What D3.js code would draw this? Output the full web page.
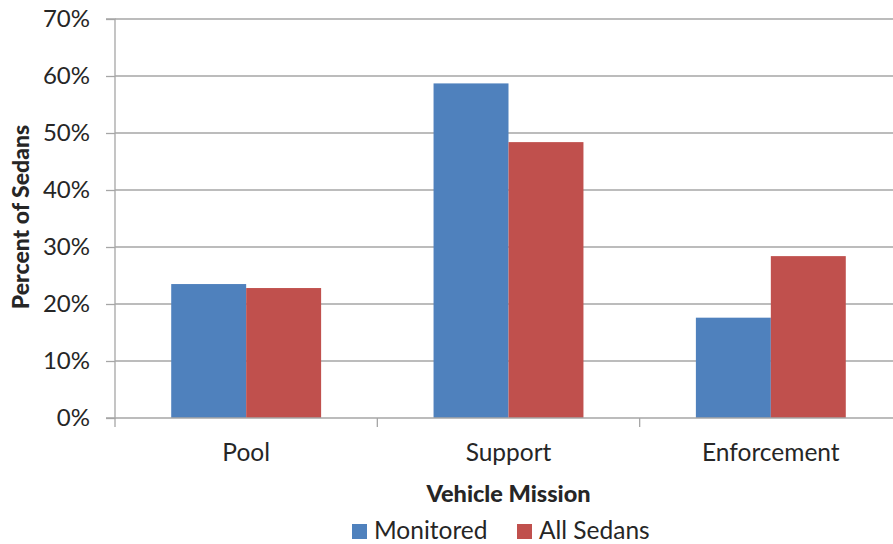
<!DOCTYPE html>
<html>
<head>
<meta charset="utf-8">
<script src="https://cdn.jsdelivr.net/npm/d3@7/dist/d3.min.js"></script>
<style>
  html, body { margin: 0; padding: 0; background: #fff; }
  svg { display: block; }
  text { font-family: Lato, "Open Sans", sans-serif; fill: #262626; }
</style>
</head>
<body>
<svg id="chart" width="893" height="544"></svg>
<script>
// Share of sedans by vehicle mission
const categories = ["Pool", "Support", "Enforcement"];
const seriesNames = ["Monitored", "All Sedans"];
const monitored = [23.5, 58.7, 17.6];
const allSedans = [22.8, 48.4, 28.4];
const yTicks = [0, 10, 20, 30, 40, 50, 60, 70];
const colors = ["#4F81BD", "#C0504D"];

const seriesValues = [monitored, allSedans];

const svg = d3.select("#chart");
const W = 893, H = 544;
const plot = { left: 115, right: 902, top: 19, bottom: 418 };

const x0 = d3.scaleBand().domain(categories).range([plot.left, plot.right]).padding(0);
const x1 = d3.scaleBand().domain(seriesNames).range([0, x0.bandwidth()])
  .paddingInner(0).paddingOuter(0.75);
const y = d3.scaleLinear().domain([0, 70]).range([plot.bottom, plot.top]);

// Horizontal gridlines
svg.append("g")
  .selectAll("line")
  .data(yTicks.filter(d => d > 0))
  .join("line")
  .attr("x1", plot.left).attr("x2", W)
  .attr("y1", d => y(d)).attr("y2", d => y(d))
  .attr("stroke", "#a6a6a6").attr("stroke-width", 1.3);

// Bars
const groups = svg.append("g")
  .selectAll("g")
  .data(categories)
  .join("g")
  .attr("transform", d => `translate(${x0(d)},0)`);

groups.selectAll("rect")
  .data((c, i) => seriesNames.map((s, k) => ({ s, v: seriesValues[k][i], k })))
  .join("rect")
  .attr("x", d => x1(d.s))
  .attr("width", x1.bandwidth())
  .attr("y", d => y(d.v))
  .attr("height", d => y(0) - y(d.v))
  .attr("fill", d => colors[d.k]);

// Y axis
const yAxis = d3.axisLeft(y).tickValues(yTicks).tickFormat(d => d + "%").tickSize(9).tickPadding(16);
const gy = svg.append("g").attr("transform", `translate(${plot.left},0)`).call(yAxis);
gy.select(".domain").attr("stroke", "#a6a6a6").attr("stroke-width", 1.3)
  .attr("d", `M-9,${plot.bottom}H0V${plot.top}H-9`);
gy.selectAll(".tick line").attr("stroke", "#a6a6a6").attr("stroke-width", 1.3);
gy.selectAll(".tick text").style("font-family", "Lato, sans-serif").style("font-size", "24px").attr("fill", "#333");

// X axis
const xAxis = d3.axisBottom(x0).tickSize(0).tickPadding(26);
const gx = svg.append("g").attr("transform", `translate(0,${plot.bottom})`).call(xAxis);
gx.select(".domain").attr("stroke", "#a6a6a6").attr("stroke-width", 1.3)
  .attr("d", `M${plot.left},0H${plot.right}`);
gx.selectAll(".tick text").style("font-family", "Lato, sans-serif").style("font-size", "24.5px").attr("fill", "#333");
// Category boundary ticks
const bounds = categories.map(c => x0(c)).concat([plot.right]);
gx.append("g").selectAll("line")
  .data(bounds)
  .join("line")
  .attr("x1", d => d).attr("x2", d => d)
  .attr("y1", 0).attr("y2", 9)
  .attr("stroke", "#a6a6a6").attr("stroke-width", 1.3);

// Axis titles
svg.append("text")
  .attr("x", x0("Support") + x0.bandwidth() / 2).attr("y", 502)
  .attr("text-anchor", "middle")
  .style("font-size", "23.5px").style("font-weight", "900")
  .text("Vehicle Mission");

svg.append("text")
  .attr("transform", `translate(29,217) rotate(-90)`)
  .attr("text-anchor", "middle")
  .style("font-size", "23px").style("font-weight", "900")
  .text("Percent of Sedans");

// Legend
const legendItems = [
  { name: seriesNames[0], color: colors[0], x: 352 },
  { name: seriesNames[1], color: colors[1], x: 517 }
];
const lg = svg.append("g").selectAll("g").data(legendItems).join("g")
  .attr("transform", d => `translate(${d.x},524)`);
lg.append("rect").attr("width", 15).attr("height", 15).attr("fill", d => d.color);
lg.append("text").attr("x", 22).attr("y", 15)
  .style("font-size", "24.5px").attr("fill", "#333")
  .text(d => d.name);
</script>
</body>
</html>
